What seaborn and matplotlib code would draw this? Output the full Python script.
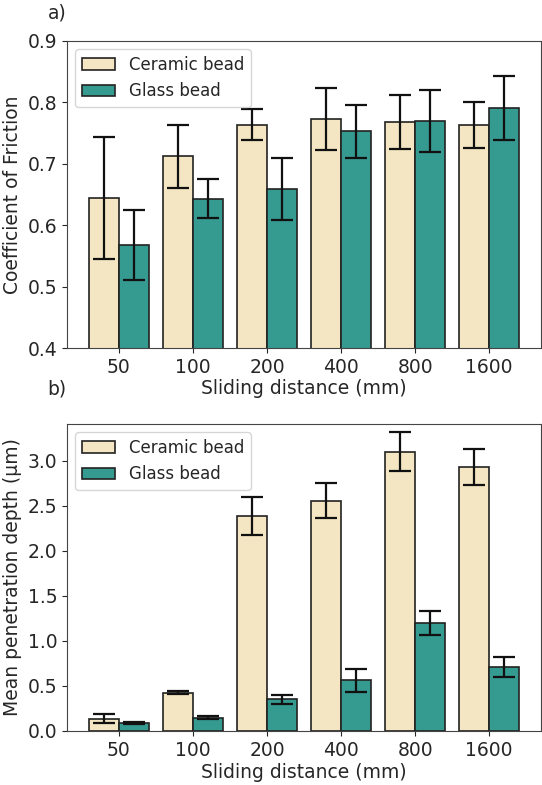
import numpy as np
import pandas as pd
import matplotlib
matplotlib.use("Agg")
import matplotlib.pyplot as plt
import seaborn as sns

distances = ["50", "100", "200", "400", "800", "1600"]
series = ["Ceramic bead", "Glass bead"]

cof_ceramic = [0.644, 0.712, 0.764, 0.773, 0.768, 0.763]
cof_ceramic_err = [0.099, 0.052, 0.026, 0.050, 0.044, 0.038]
cof_glass = [0.568, 0.643, 0.659, 0.753, 0.770, 0.791]
cof_glass_err = [0.057, 0.032, 0.050, 0.043, 0.050, 0.052]

pd_ceramic = [0.137, 0.426, 2.386, 2.560, 3.104, 2.930]
pd_ceramic_err = [0.052, 0.020, 0.210, 0.190, 0.220, 0.200]
pd_glass = [0.093, 0.149, 0.352, 0.563, 1.199, 0.711]
pd_glass_err = [0.010, 0.020, 0.050, 0.125, 0.130, 0.110]

colors = ["#F5E6C3", "#359A90"]

sns.set_style("ticks")
plt.rcParams['font.family'] = ['DejaVu Sans']

LBL = 13.5
fig = plt.figure(figsize=(5.42, 7.85), dpi=100)
ax1 = fig.add_axes([67/542, 1 - 348/785, 474/542, 307/785])
ax2 = fig.add_axes([67/542, 1 - 731/785, 474/542, 307/785])


def draw(ax, v1, e1, v2, e2, ylabel):
    df = pd.DataFrame({
        "dist": distances * 2,
        "kind": [series[0]] * len(distances) + [series[1]] * len(distances),
        "val": list(v1) + list(v2),
        "err": list(e1) + list(e2),
    })
    sns.barplot(data=df, x="dist", y="val", hue="kind", order=distances,
                hue_order=series, palette=colors, errorbar=None,
                edgecolor="#222222", linewidth=1.2, width=0.81, ax=ax,
                saturation=1)
    bars = list(ax.patches)[:len(df)]
    xs = [b.get_x() + b.get_width() / 2 for b in bars]
    tops = [b.get_height() for b in bars]
    errs = list(e1) + list(e2)
    ax.errorbar(xs, tops, yerr=errs, fmt="none", ecolor="#111111",
                elinewidth=1.6, capsize=8, capthick=1.6, zorder=5)
    ax.set_xlabel("Sliding distance (mm)", fontsize=LBL, labelpad=2)
    ax.set_ylabel(ylabel, fontsize=LBL)
    ax.tick_params(labelsize=LBL)
    for s in ax.spines.values():
        s.set_color("#444444")
        s.set_visible(True)
    leg = ax.legend(loc="upper left", fontsize=12, frameon=True, fancybox=True,
                    handlelength=2.0, borderaxespad=0.5)
    leg.set_title(None)
    ax.set_xlim(-0.70, 5.70)


draw(ax1, cof_ceramic, cof_ceramic_err, cof_glass, cof_glass_err,
     "Coefficient of Friction")
ax1.set_ylim(0.4, 0.9)
ax1.set_yticks([0.4, 0.5, 0.6, 0.7, 0.8, 0.9])

draw(ax2, pd_ceramic, pd_ceramic_err, pd_glass, pd_glass_err,
     "Mean penetration depth (μm)")
ax2.set_ylim(0, 3.41)
ax2.set_yticks([0.0, 0.5, 1.0, 1.5, 2.0, 2.5, 3.0])

fig.text(57/542, 1 - 13/785, "a)", fontsize=LBL, ha="center", va="center")
fig.text(57/542, 1 - 389/785, "b)", fontsize=LBL, ha="center", va="center")

fig.savefig("out.png", dpi=100)
